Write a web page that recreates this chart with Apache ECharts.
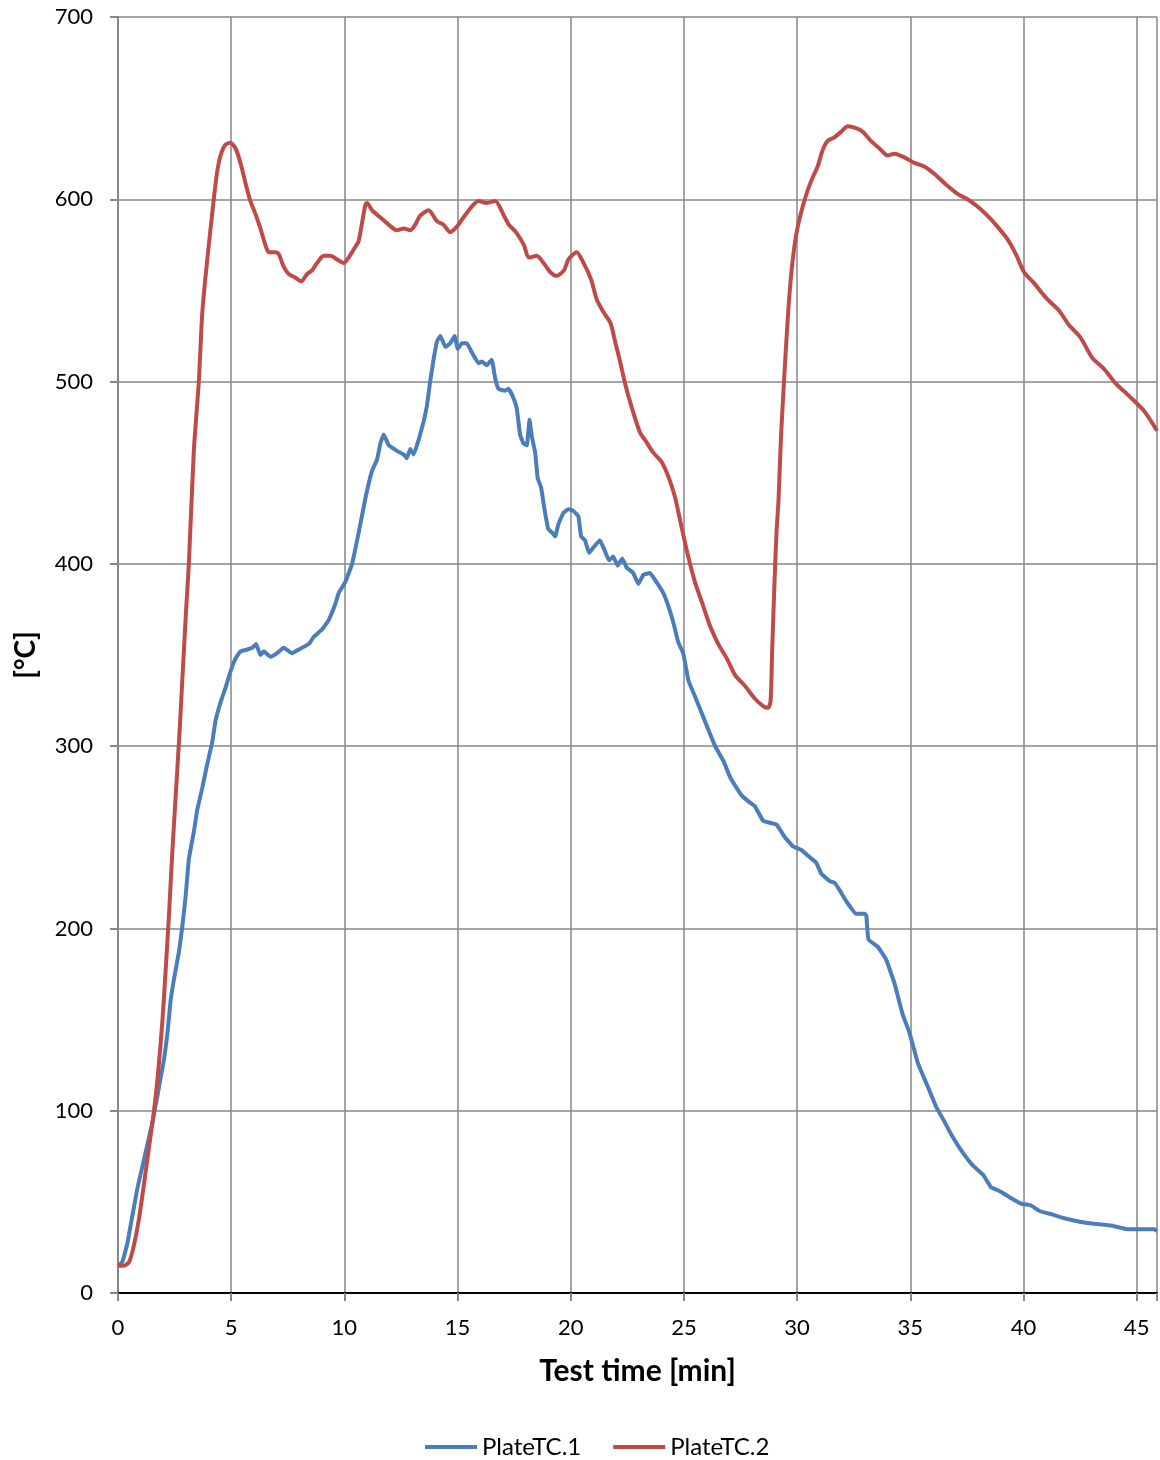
<!DOCTYPE html>
<html>
<head>
<meta charset="utf-8">
<title>Plate thermocouples</title>
<script src="https://cdn.jsdelivr.net/npm/echarts@6/dist/echarts.min.js"></script>
<style>
  html, body { margin: 0; padding: 0; background: #ffffff; }
  #chart { width: 1160px; height: 1460px; }
</style>
</head>
<body>
<div id="chart"></div>
<script>
// Test time [min] and temperature [°C] samples for each plate thermocouple
const timeTC1 = [0,0.19,0.41,0.63,0.85,1.07,1.29,1.51,1.74,1.88,2.03,2.18,2.32,2.47,2.69,2.84,2.99,3.13,3.35,3.5,3.72,3.94,4.16,4.31,4.53,4.75,4.97,5.19,5.41,5.71,5.93,6.1,6.29,6.44,6.74,7.03,7.32,7.69,7.99,8.43,8.65,9.01,9.3,9.6,9.75,10.04,10.34,10.63,10.93,11.22,11.44,11.59,11.74,11.96,12.32,12.62,12.76,12.91,13.06,13.28,13.5,13.65,13.79,13.94,14.09,14.24,14.46,14.68,14.87,15.01,15.19,15.41,15.63,15.93,16.07,16.29,16.51,16.66,16.81,17.1,17.25,17.47,17.62,17.76,17.91,18.06,18.18,18.28,18.43,18.54,18.69,18.84,19.01,19.19,19.31,19.46,19.68,19.9,20.12,20.34,20.46,20.63,20.81,21.07,21.29,21.51,21.69,21.88,22.07,22.28,22.47,22.76,22.99,23.21,23.5,23.79,24.09,24.31,24.53,24.75,24.97,25.2,25.5,25.79,26.08,26.38,26.74,27.04,27.18,27.55,27.92,28.14,28.5,28.8,29.09,29.46,29.82,30.19,30.56,30.85,31.07,31.44,31.66,31.88,32.17,32.61,32.98,33.06,33.15,33.56,33.93,34.3,34.66,34.96,35.34,35.78,36.15,36.51,36.81,37.32,37.76,38.21,38.57,38.94,39.46,39.9,40.34,40.71,41.29,41.81,42.54,43.13,43.87,44.6,45.19,45.78,45.9];
const tempTC1 = [15,17,27,42,57,69,81,93,108,118,128,142,160,172,187,201,218,238,253,265,277,290,302,314,324,332,341,348,352,353,354,356,350,352,349,351,354,351,353,356,360,364,369,378,384,390,400,417,436,451,457,466,471,465,462,460,458,463,460,468,478,487,500,512,522,525,519,521,525,518,521,521,516,510,511,509,512,502,496,495,496,491,485,471,466,465,479,470,461,447,442,430,419,417,415,422,428,430,429,426,415,413,406,410,413,407,402,404,399,403,398,395,389,394,395,390,384,377,368,357,351,336,327,318,309,300,292,283,280,273,269,267,259,258,257,250,245,243,239,236,230,226,225,221,215,208,208,207,194,190,183,170,153,143,126,113,102,94,87,77,70,65,58,56,52,49,48,45,43,41,39,38,37,35,35,35,34];

const timeTC2 = [0,0.26,0.49,0.7,0.93,1.15,1.37,1.59,1.78,1.96,2.1,2.25,2.4,2.57,2.72,2.87,3.01,3.13,3.35,3.57,3.72,3.87,4.09,4.24,4.38,4.53,4.75,4.97,5.19,5.41,5.63,5.85,6.07,6.29,6.51,6.66,6.96,7.1,7.32,7.54,7.84,8.1,8.35,8.57,8.79,9.09,9.38,9.68,9.97,10.19,10.49,10.63,10.78,10.93,11.0,11.22,11.59,11.96,12.32,12.62,12.91,13.13,13.35,13.72,14.09,14.38,14.68,14.97,15.26,15.63,15.93,16.29,16.66,17.05,17.27,17.58,17.93,18.15,18.5,18.8,19.1,19.38,19.7,19.9,20.26,20.57,20.9,21.15,21.45,21.76,21.96,22.18,22.4,22.69,23.06,23.28,23.65,24.01,24.31,24.6,24.9,25.19,25.49,25.85,26.15,26.52,26.9,27.26,27.7,28.14,28.5,28.72,28.83,28.9,29.0,29.09,29.18,29.29,29.44,29.59,29.74,29.88,30.03,30.25,30.47,30.69,30.91,31.13,31.35,31.65,31.94,32.24,32.6,32.9,33.26,33.63,34.0,34.29,34.74,35.18,35.62,36.06,36.5,37.09,37.53,37.97,38.41,38.85,39.3,39.66,40.03,40.47,40.99,41.57,42.01,42.53,43.04,43.56,44.07,44.59,45.32,45.9];
const tempTC2 = [15,15,17,26,41,60,80,100,122,149,176,207,242,277,308,343,375,400,462,500,537,558,584,601,615,624,630,631,628,620,609,599,592,584,575,571,571,570,563,559,557,555,559,561,565,569,569,567,565,568,574,577,587,597,598,594,590,586,583,584,583,586,591,594,588,586,582,585,590,596,599,598,599,591,586,582,575,568,569,565,560,558,561,567,571,565,556,545,538,532,522,511,499,486,472,468,461,456,448,437,420,404,390,377,366,356,348,339,333,326,322,321,325,353,389,417,435,470,504,535,559,574,585,596,605,612,618,627,632,634,637,640,639,637,632,628,624,625,623,620,618,614,609,603,600,596,591,585,578,570,560,554,546,539,531,524,513,507,499,493,484,473];

// Axis ranges and tick spacing
const xRange = [0, 45.9];
const xStep = 5;
const yRange = [0, 700];
const yStep = 100;

const seriesNames = ['PlateTC.1', 'PlateTC.2'];

function pairs(xs, ys) {
  return xs.map((x, i) => [x, ys[i]]);
}

const GRID_GREY = '#878787';
const FONT = 'Lato, "Noto Sans", sans-serif';

const chart = echarts.init(document.getElementById('chart'), null, { renderer: 'canvas' });

chart.setOption({
  animation: false,
  backgroundColor: '#ffffff',
  grid: { left: 118, right: 0, top: 17, bottom: 167, containLabel: false },
  legend: {
    top: 1430,
    left: 420,
    icon: 'rect',
    itemWidth: 52,
    itemHeight: 4,
    itemGap: 32,
    textStyle: { fontFamily: FONT, fontSize: 24, color: '#000000' },
    data: seriesNames
  },
  xAxis: [
    {
      type: 'value',
      min: xRange[0],
      max: xRange[1],
      interval: xStep,
      name: 'Test time [min]',
      nameLocation: 'middle',
      nameGap: 63,
      nameTextStyle: { fontFamily: FONT, fontSize: 30, fontWeight: 'bold', color: '#000000' },
      axisLine: { show: true, onZero: false, lineStyle: { color: GRID_GREY, width: 2 } },
      axisTick: { show: true, inside: false, length: 8, lineStyle: { color: GRID_GREY, width: 2 } },
      axisLabel: {
        margin: 24,
        fontFamily: FONT,
        fontSize: 22,
        color: '#000000',
        formatter: v => (Math.abs(v % xStep) < 1e-9 ? String(v) : '')
      },
      splitLine: { show: true, lineStyle: { color: GRID_GREY, width: 1.5 } }
    },
    {
      // plot frame along the top edge
      type: 'value',
      position: 'top',
      min: xRange[0],
      max: xRange[1],
      interval: xStep,
      axisLine: { show: true, lineStyle: { color: '#000000', width: 2 } },
      axisTick: { show: false },
      axisLabel: { show: false },
      splitLine: { show: false }
    }
  ],
  yAxis: {
    type: 'value',
    min: yRange[0],
    max: yRange[1],
    interval: yStep,
    name: '[°C]',
    nameLocation: 'middle',
    nameGap: 78,
    nameRotate: 90,
    nameTextStyle: { fontFamily: FONT, fontSize: 28, fontWeight: 'bold', color: '#000000' },
    axisLine: { show: true, lineStyle: { color: GRID_GREY, width: 2 } },
    axisTick: { show: true, inside: false, length: 8, lineStyle: { color: GRID_GREY, width: 2 } },
    axisLabel: { margin: 25, fontFamily: FONT, fontSize: 22, color: '#000000' },
    splitLine: { show: true, lineStyle: { color: GRID_GREY, width: 1.5 } }
  },
  series: [
    {
      name: seriesNames[0],
      type: 'line',
      xAxisIndex: 0,
      data: pairs(timeTC1, tempTC1),
      symbol: 'none',
      showSymbol: false,
      smooth: 0.1,
      lineStyle: { color: '#4A7EBB', width: 4 },
      itemStyle: { color: '#4A7EBB' },
      z: 3
    },
    {
      name: seriesNames[1],
      type: 'line',
      xAxisIndex: 0,
      data: pairs(timeTC2, tempTC2),
      symbol: 'none',
      showSymbol: false,
      smooth: 0.25,
      lineStyle: { color: '#BE4B48', width: 4 },
      itemStyle: { color: '#BE4B48' },
      z: 4
    }
  ]
});
</script>
</body>
</html>
